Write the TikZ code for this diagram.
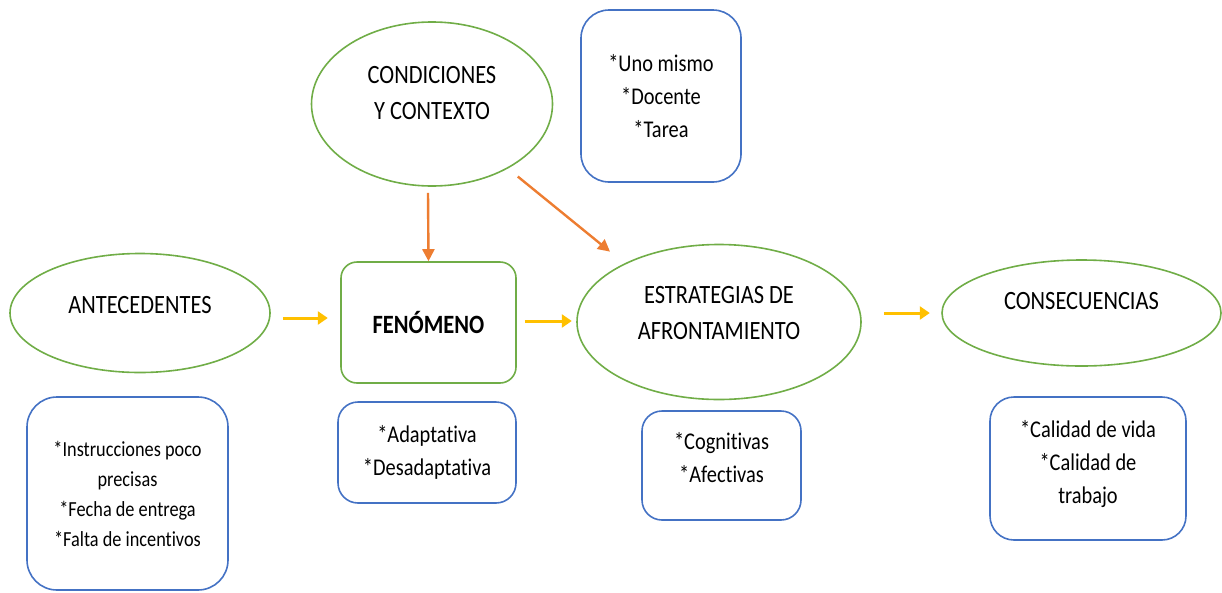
\documentclass[tikz,border=0pt]{standalone}
\usepackage{fontspec}
\setmainfont{Carlito}[FakeStretch=0.85,Ligatures=NoCommon]
\usetikzlibrary{shapes.geometric,arrows.meta}
\definecolor{leaf}{HTML}{70AD47}
\definecolor{sky}{HTML}{4472C4}
\definecolor{gold}{HTML}{FFC000}
\definecolor{rust}{HTML}{ED7D31}

\begin{document}
\begin{tikzpicture}[x=1pt,y=1pt,
    oval/.style={ellipse,draw=leaf,line width=1.6pt,inner sep=0pt},
    core/.style={rectangle,rounded corners=16pt,draw=leaf,line width=1.6pt},
    list/.style={rectangle,draw=sky,line width=1.6pt,align=center,
      font=\fontsize{24}{33}\selectfont},
    small/.style={align=center,font=\fontsize{24}{33}\selectfont},
    big/.style={align=center,font=\fontsize{26.4}{36}\selectfont},
    flow/.style={draw=gold,line width=3pt,-{Triangle[length=10pt,width=13pt]}},
    infl/.style={draw=rust,line width=2.4pt,-{Triangle[length=12pt,width=12pt]}}]
  \useasboundingbox (0,0) rectangle (1222,-592);
  \node[oval,minimum width=241pt,minimum height=164pt,
    label={[big,yshift=10.5pt]center:{CONDICIONES\\Y CONTEXTO}}] (cond) at (432,-104) {};
  \node[oval,minimum width=260pt,minimum height=119pt,
    label={[big,yshift=8pt]center:ANTECEDENTES}] (ante) at (140,-313) {};
  \node[core,minimum width=175pt,minimum height=121pt,
    font=\bfseries\fontsize{26.4}{36}\selectfont] (fen) at (428.5,-322.5) {FENÓMENO};
  \node[oval,minimum width=284pt,minimum height=155pt,
    label={[big,yshift=8.5pt]center:{ESTRATEGIAS DE\\AFRONTAMIENTO}}] (estr) at (719,-322) {};
  \node[oval,minimum width=279pt,minimum height=106pt,
    label={[big,yshift=12pt]center:CONSECUENCIAS}] (cons) at (1081.5,-313) {};

  \node[list,rounded corners=28pt,minimum width=160pt,minimum height=172pt]
    (quien) at (661,-96) {*Uno mismo\\*Docente\\*Tarea};
  \node[list,rounded corners=30pt,minimum width=201pt,minimum height=193pt,
    font=\fontsize{21.5}{30}\selectfont] (causas) at (127.5,-493.5)
    {*Instrucciones poco\\precisas\\*Fecha de entrega\\*Falta de incentivos};
  \node[list,rounded corners=20pt,minimum width=178pt,minimum height=101pt]
    (tipos) at (427,-452.5) {*Adaptativa\\*Desadaptativa};
  \node[list,rounded corners=20pt,minimum width=159pt,minimum height=109pt,
    label={[small,yshift=7.5pt]center:{*Cognitivas\\*Afectivas}}]
    (modos) at (721.5,-465.5) {};
  \node[list,rounded corners=24pt,minimum width=196pt,minimum height=143pt,
    label={[small,yshift=4pt]center:{*Calidad de vida\\*Calidad de\\trabajo}}]
    (efectos) at (1088,-468.5) {};

  \draw[flow] ([shift={(12,-5)}]ante.east) -- ++(45,0);
  \draw[flow] ([shift={(8,1.5)}]fen.east) -- ++(47,0);
  \draw[flow] ([shift={(22,9)}]estr.east) -- ++(46,0);
  \draw[infl] ([shift={(-4,-6)}]cond.south) -- (fen.north);
  \draw[infl] ([shift={(0,-14)}]cond.south east) -- ([shift={(-8,15)}]estr.north west);
\end{tikzpicture}
\end{document}
